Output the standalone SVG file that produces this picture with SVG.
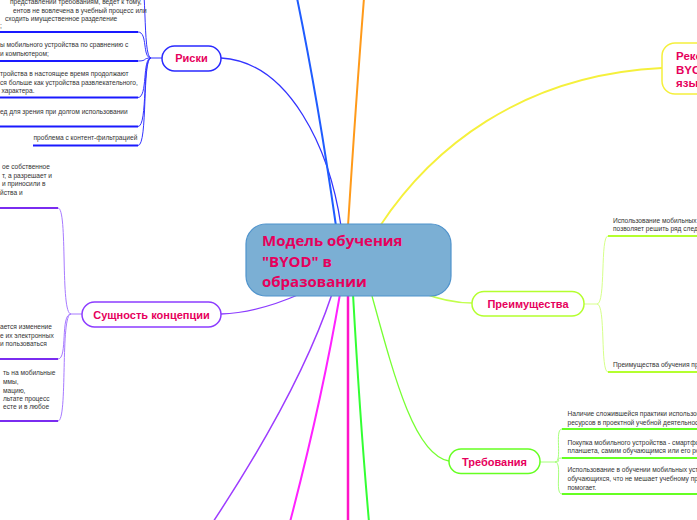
<svg xmlns="http://www.w3.org/2000/svg" width="697" height="520" viewBox="0 0 697 520">
<style>
.t{font-family:"Liberation Sans",Arial,sans-serif;font-size:6.6px;fill:#333}
.n{font-family:"Liberation Sans",Arial,sans-serif;font-weight:bold;font-size:11px;fill:#e6005c;text-anchor:middle}
.c{font-family:"Open Sans","Noto Sans",sans-serif;font-weight:bold;font-size:15px;fill:#e6005c}
.y{font-family:"Liberation Sans",Arial,sans-serif;font-weight:bold;font-size:11.5px;fill:#e6005c}
.node{fill:#fff;stroke-width:1.5}
path{fill:none}
</style>
<rect width="697" height="520" fill="#fff"/>
<g id="connectors">
<path d="M221,58 C290,62 330,150 341,226" stroke="#3333ff" stroke-width="1.3"/>
<path d="M336,226 Q318,100 297,-2" stroke="#1f5cff" stroke-width="2"/>
<path d="M348,226 Q356,100 364,-2" stroke="#ff9a1a" stroke-width="2"/>
<path d="M380,226 C430,150 520,75 662,68" stroke="#f5f03c" stroke-width="1.8"/>
<path d="M420,292 C440,300 455,303 472,303" stroke="#c2ff4d" stroke-width="1.5"/>
<path d="M372,296 C395,380 415,455 449,461" stroke="#77ff33" stroke-width="1.3"/>
<path d="M221,314 C250,313 275,305 300,294" stroke="#8c3cff" stroke-width="1.3"/>
<path d="M332,294 Q300,390 213,522" stroke="#9d3cff" stroke-width="1.5"/>
<path d="M340,294 Q322,400 290,522" stroke="#ff22ff" stroke-width="2"/>
<path d="M348,294 L348,522" stroke="#ff14c8" stroke-width="2.5"/>
<path d="M353,294 Q360,420 369,522" stroke="#33ff33" stroke-width="2"/>
<g stroke="#3333ff" stroke-width="1">
<path d="M162,58 L151,58"/>
<path d="M151,58 C142,58 148,-30 138,-30"/>
<path d="M151,58 C142,58 148,32 138,32"/>
<path d="M151,58 C142,58 148,61 138,61"/>
<path d="M151,58 C142,58 148,97.5 138,97.5"/>
<path d="M151,58 C142,58 148,126.5 138,126.5"/>
<path d="M151,58 C142,58 148,145.5 138,145.5"/>
</g>
<g stroke="#1a1aff" stroke-width="2">
<path d="M0,32 L138,32"/>
<path d="M0,61 L138,61"/>
<path d="M0,97.5 L138,97.5"/>
<path d="M0,126.5 L138,126.5"/>
<path d="M33,145.5 L138,145.5"/>
</g>
<g stroke="#a77aff" stroke-width="1">
<path d="M82,314 L71,314"/>
<path d="M71,314 C60,314 68,208 58,208"/>
<path d="M71,314 C60,314 68,359 58,359"/>
<path d="M71,314 C60,314 68,421 58,421"/>
</g>
<g stroke="#7a2cf0" stroke-width="2">
<path d="M0,208 L58,208"/>
<path d="M0,359 L58,359"/>
<path d="M0,421 L58,421"/>
</g>
<g stroke="#d6ff8a" stroke-width="1">
<path d="M584,304 L597,304"/>
<path d="M597,304 C606,304 600,236 608,236"/>
<path d="M597,304 C606,304 600,372 608,372"/>
</g>
<g stroke="#b4ff2e" stroke-width="2">
<path d="M608,236 L697,236"/>
<path d="M608,372 L697,372"/>
</g>
<g stroke="#a6ff7a" stroke-width="1">
<path d="M540,462 L555,462"/>
<path d="M555,462 C563,462 554,429 562,429"/>
<path d="M555,462 C563,462 554,458 562,458"/>
<path d="M555,462 C563,462 554,494 562,494"/>
</g>
<g stroke="#66ff22" stroke-width="2">
<path d="M562,429 L697,429"/>
<path d="M562,458 L697,458"/>
<path d="M562,494 L697,494"/>
</g>
</g>
<g id="center">
<rect x="246" y="224" width="205" height="72" rx="20" fill="#7bafd4" stroke="#4f93cc" stroke-width="1.2"/>
<text class="c" x="262" y="246">Модель обучения</text>
<text class="c" x="262" y="267">"BYOD" в</text>
<text class="c" x="262" y="287">образовании</text>
</g>
<g id="riski">
<rect class="node" x="162" y="46" width="59" height="25" rx="12.5" stroke="#2a2aff"/>
<text class="n" x="191.5" y="62">Риски</text>
</g>
<g id="riski-items">
<text class="t" x="10" y="4">представлении требованиям, ведет к тому,</text>
<text class="t" x="13" y="12.5">ентов не вовлечена в учебный процесс или</text>
<text class="t" x="5" y="21">сходить имущественное разделение</text>
<text class="t" x="0" y="28">;</text>
<text class="t" x="0" y="47">ы мобильного устройства по сравнению с</text>
<text class="t" x="0" y="56">и компьютером;</text>
<text class="t" x="0" y="76">тройства в настоящее время продолжают</text>
<text class="t" x="0" y="84.5">ся больше как устройства развлекательного,</text>
<text class="t" x="1.5" y="93">характера.</text>
<text class="t" x="0" y="113.5">ед для зрения при долгом использовании</text>
<text class="t" x="33.5" y="140">проблема с контент-фильтрацией</text>
</g>
<g id="sushchnost">
<rect class="node" x="82" y="302" width="139" height="25" rx="12.5" stroke="#8c3cff"/>
<text class="n" x="151.5" y="318.5">Сущность концепции</text>
</g>
<g id="sushchnost-items">
<text class="t" x="2" y="168.5">ое собственное</text>
<text class="t" x="2" y="177.5">т, а разрешает и</text>
<text class="t" x="2" y="186">и приносили в</text>
<text class="t" x="0" y="194.5">йства и</text>
<text class="t" x="0" y="329">ается изменение</text>
<text class="t" x="0" y="337.5">е их электронных</text>
<text class="t" x="0" y="346">и пользоваться</text>
<text class="t" x="3" y="375">ть на мобильные</text>
<text class="t" x="3" y="384">ммы,</text>
<text class="t" x="3" y="392.5">мацию,</text>
<text class="t" x="3" y="401">льтате процесс</text>
<text class="t" x="3" y="409">есте и в любое</text>
</g>
<g id="rekomendacii">
<rect class="node" x="662" y="43" width="60" height="51" rx="13" stroke="#f5f03c"/>
<text class="y" x="676" y="60">Реко</text>
<text class="y" x="676" y="73.5">BYO</text>
<text class="y" x="676" y="87">язы</text>
</g>
<g id="preimushchestva">
<rect class="node" x="472" y="291.5" width="112" height="24.5" rx="12" stroke="#b4ff2e"/>
<text class="n" x="528" y="307.5">Преимущества</text>
</g>
<g id="preimushchestva-items">
<text class="t" x="613" y="222.5">Использование мобильных у</text>
<text class="t" x="613" y="231">позволяет решить ряд следу</text>
<text class="t" x="613" y="367">Преимущества обучения пр</text>
</g>
<g id="trebovaniya">
<rect class="node" x="449" y="449" width="91" height="24.5" rx="12" stroke="#66ff22"/>
<text class="n" x="494.5" y="465.5">Требования</text>
</g>
<g id="trebovaniya-items">
<text class="t" x="567.5" y="416">Наличие сложившейся практики использова</text>
<text class="t" x="567.5" y="424.5">ресурсов в проектной учебной деятельност</text>
<text class="t" x="567.5" y="444.5">Покупка мобильного устройства - смартфон</text>
<text class="t" x="567.5" y="453">планшета, самим обучающимся или его род</text>
<text class="t" x="567.5" y="472">Использование в обучении мобильных устр</text>
<text class="t" x="567.5" y="481">обучающихся, что не мешает учебному про</text>
<text class="t" x="567.5" y="489.5">помогает.</text>
</g>
</svg>
